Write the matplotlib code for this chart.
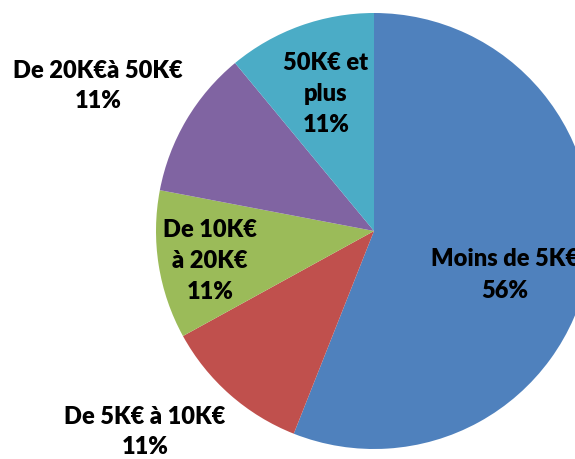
import matplotlib
matplotlib.use("Agg")
import matplotlib.pyplot as plt

categories = ["Moins de 5K€", "De 5K€ à 10K€", "De 10K€\nà 20K€", "De 20K€à 50K€", "50K€ et\nplus"]
percents = [56, 11, 11, 11, 11]
colors = ["#4F81BD", "#C0504D", "#9BBB59", "#8064A2", "#4BACC6"]

# label layout (pixel coords, y from top)
label_pos = [(505, 275), (145, 432), (210, 261), (98, 86), (326, 94)]

W, H = 575, 459
fig = plt.figure(figsize=(W / 100, H / 100), dpi=100)
ax = fig.add_axes([0, 0, 1, 1])
ax.pie(percents, colors=colors, startangle=90, counterclock=False,
       center=(374, H - 231), radius=218, wedgeprops=dict(linewidth=0))
ax.set_xlim(0, W)
ax.set_ylim(0, H)
ax.set_aspect("equal")
ax.axis("off")

for cat, p, (x, y) in zip(categories, percents, label_pos):
    ax.text(x, H - y, f"{cat}\n{p}%", ha="center", va="center",
            fontsize=17, fontweight="heavy", family=["Lato", "DejaVu Sans"],
            linespacing=1.5, color="black")

fig.savefig("out.png", dpi=100)
